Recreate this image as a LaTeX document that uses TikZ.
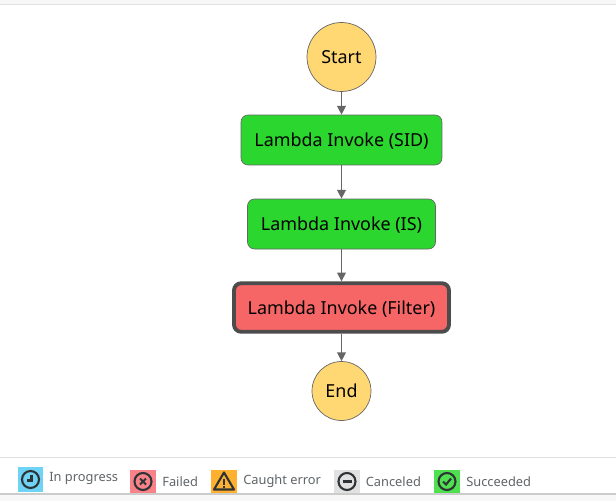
\documentclass[tikz,border=0pt]{standalone}
\usepackage{fontspec}
\setmainfont{Noto Sans}
\usetikzlibrary{arrows.meta}
\definecolor{startfill}{HTML}{FFD873}
\definecolor{okfill}{HTML}{2BD62E}
\definecolor{failfill}{HTML}{F76666}
\definecolor{edgegray}{HTML}{666666}
\definecolor{icondark}{HTML}{2F3336}
\definecolor{legendtext}{HTML}{5F6468}
\definecolor{legblue}{HTML}{6FD3F5}
\definecolor{legred}{HTML}{F98289}
\definecolor{legorange}{HTML}{FFB02E}
\definecolor{leggray}{HTML}{E1E1E1}
\definecolor{leggreen}{HTML}{4FE04F}
\tikzset{
  x=0.02cm,y=-0.02cm,
  terminal/.style={circle,draw=edgegray,line width=0.4pt,fill=startfill,inner sep=0pt,font=\fontsize{10.2}{12}\selectfont},
  task/.style={rectangle,rounded corners=4pt,draw=edgegray,line width=0.4pt,inner sep=0pt,text height=8.6pt,text depth=0.9pt,font=\fontsize{10.2}{12}\selectfont},
  flow/.style={draw=edgegray,line width=0.8pt,-{Triangle[length=5pt,width=5pt]}},
  legicon/.style={rectangle,inner sep=0pt,minimum width=0.52cm,minimum height=0.47cm},
  legtext/.style={anchor=west,inner sep=0pt,text=legendtext,font=\fontsize{7.3}{9}\selectfont},
  glyph/.style={draw=icondark,line width=1.2pt}
}
\begin{document}
\begin{tikzpicture}
  \useasboundingbox (0,0) rectangle (616,501);
  % page strips
  \fill[black!3] (0,0) rectangle (616,4);
  \draw[black!12,line width=0.5pt] (0,4.5) -- (616,4.5);
  \draw[black!12,line width=0.6pt] (0,457.5) -- (616,457.5);
  \fill[black!3] (0,494) rectangle (616,501);
  \draw[black!20,line width=0.6pt] (0,494) -- (616,494);

  % state machine
  \node[terminal,minimum size=1.38cm] (start) at (341.5,57) {Start};
  \node[task,fill=okfill,minimum width=4.02cm,minimum height=1cm] (sid) at (341.5,140) {Lambda Invoke (SID)};
  \node[task,fill=okfill,minimum width=3.76cm,minimum height=1cm] (is) at (341.5,224) {Lambda Invoke (IS)};
  \node[task,fill=failfill,draw=black!70,line width=2.2pt,minimum width=4.3cm,minimum height=0.97cm] (filter) at (341.5,307.5) {Lambda Invoke (Filter)};
  \node[terminal,minimum size=1.18cm,text height=8.2pt,text depth=0.6pt] (end) at (341.5,391) {End};

  \draw[flow] (start) -- (sid);
  \draw[flow] (sid) -- (is);
  \draw[flow] (is) -- (filter);
  \draw[flow] (filter) -- (end);

  % legend
  \node[legicon,fill=legblue,minimum height=0.5cm] (progress) at (30.5,479.5) {};
  \node[legicon,fill=legred] (failed) at (143,481.5) {};
  \node[legicon,fill=legorange] (caught) at (224,481.5) {};
  \node[legicon,fill=leggray] (canceled) at (347,481.5) {};
  \node[legicon,fill=leggreen] (succeeded) at (447,481.5) {};
  \node[legtext] (progresstext) at (49,478.5) {In progress};
  \node[legtext] (failedtext) at (162,481.5) {Failed};
  \node[legtext] (caughttext) at (243,481.5) {Caught error};
  \node[legtext] (canceledtext) at (365.5,481.5) {Canceled};
  \node[legtext] (succeededtext) at (466,481.5) {Succeeded};

  % legend glyphs
  \begin{scope}[shift={(progress.center)}]
    \draw[glyph] (0,0) circle (8.5);
    \draw[glyph] (1,-5) -- (1,1) -- (-4,1);
  \end{scope}
  \begin{scope}[shift={(failed.center)}]
    \draw[glyph] (0,0) circle (8.5);
    \draw[glyph] (-3,-3) -- (3,3) (-3,3) -- (3,-3);
  \end{scope}
  \begin{scope}[shift={(caught.center)}]
    \draw[glyph,line join=round] (0,-9) -- (10,8) -- (-10,8) -- cycle;
    \draw[glyph] (0,-3) -- (0,3) (0,4.2) -- (0,6);
  \end{scope}
  \begin{scope}[shift={(canceled.center)}]
    \draw[glyph] (0,0) circle (8.5);
    \draw[glyph] (-4.5,0) -- (4.5,0);
  \end{scope}
  \begin{scope}[shift={(succeeded.center)}]
    \draw[glyph] (0,0) circle (8.5);
    \draw[glyph] (-4,0) -- (-1,3) -- (4,-3);
  \end{scope}
\end{tikzpicture}
\end{document}
